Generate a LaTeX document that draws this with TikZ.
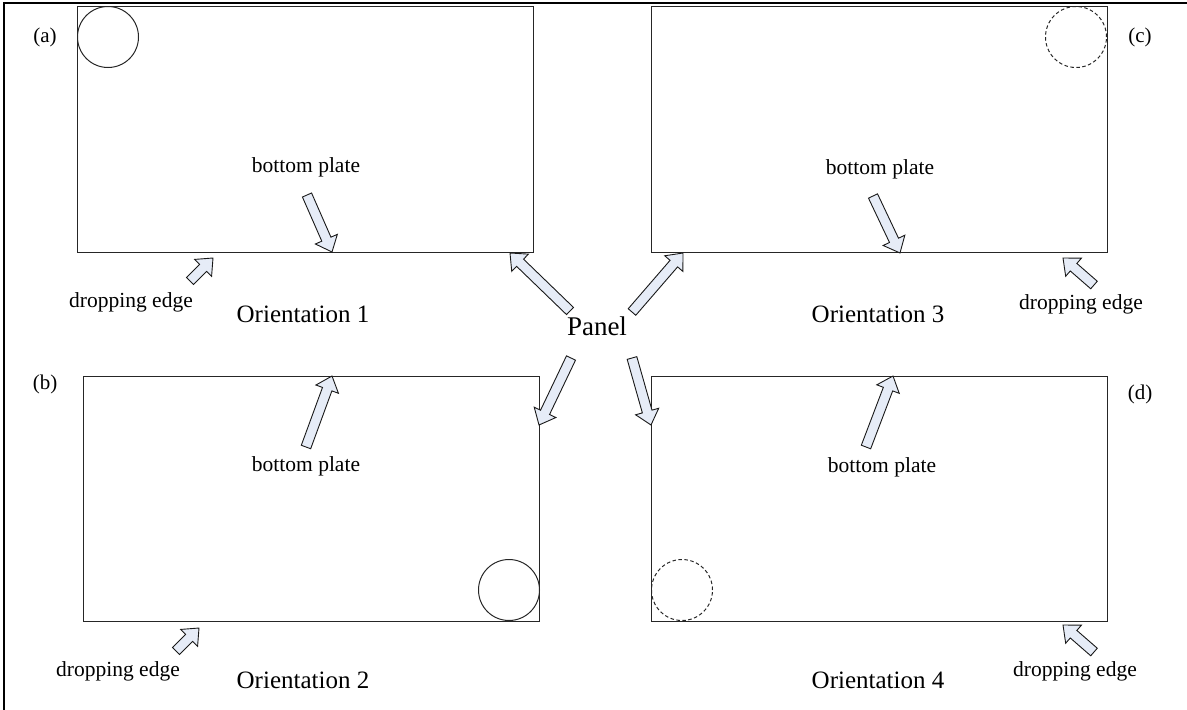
\documentclass[tikz,border=0pt]{standalone}
\usepackage{fontspec}
\setmainfont{Liberation Serif}
\usetikzlibrary{calc}
\definecolor{arrowfill}{HTML}{E6ECF7}
\tikzset{
  plate/.style={draw=black!85, line width=1.1pt},
  ballsolid/.style={draw=black!85, line width=1pt},
  balldash/.style={draw=black!85, line width=1pt, dash pattern=on 3.5pt off 2.5pt},
  barrow/.style={draw=black!90, fill=arrowfill, line width=0.9pt, line join=miter},
  lbl/.style={font=\fontsize{21}{24}\selectfont, inner sep=0pt},
  small/.style={font=\fontsize{21.5}{24}\selectfont, inner sep=0pt, anchor=base},
  orient/.style={font=\fontsize{25}{28}\selectfont, inner sep=0pt, anchor=base},
}
% block arrow from #1 (tail) to #2 (tip)
\newcommand\blockarrow[2]{%
  \path[barrow] let \p1=($(#2)-(#1)$), \n1={atan2(\y1,\x1)}, \n2={veclen(\x1,\y1)} in
    [shift={(#1)}, rotate=\n1]
    (0,-5) -- (\n2-14,-5) -- (\n2-14,-12) -- (\n2,0) -- (\n2-14,12) -- (\n2-14,5) -- (0,5) -- cycle;}
\begin{document}
\begin{tikzpicture}[x=1pt,y=-1pt]
\useasboundingbox (0,0) rectangle (1187,710);
% outer frame (top and left)
\draw[line width=2.2pt] (4,710) -- (4,3) -- (1187,3);
% plates
\node[plate, minimum width=456pt, minimum height=246pt, anchor=north west, inner sep=0pt] (A) at (77,6) {};
\node[plate, minimum width=456pt, minimum height=246pt, anchor=north west, inner sep=0pt] (C) at (651,6) {};
\node[plate, minimum width=456pt, minimum height=245pt, anchor=north west, inner sep=0pt] (B) at (83,376) {};
\node[plate, minimum width=456pt, minimum height=245pt, anchor=north west, inner sep=0pt] (D) at (651,376) {};
% balls
\node[ballsolid, circle, minimum size=61pt, inner sep=0pt] (ca) at (108,37) {};
\node[balldash, circle, minimum size=61pt, inner sep=0pt] (cc) at (1076,37) {};
\node[ballsolid, circle, minimum size=61pt, inner sep=0pt] (cb) at (509,590) {};
\node[balldash, circle, minimum size=61pt, inner sep=0pt] (cd) at (682,590) {};
% labels
\node[lbl] (la) at (45,37) {(a)};
\node[lbl] (lc) at (1140,37) {(c)};
\node[lbl] (lb) at (45,384) {(b)};
\node[lbl] (ld) at (1140,394) {(d)};
% bottom plate labels
\node[small] (bpa) at (306,172) {bottom plate};
\node[small] (bpc) at (880,174) {bottom plate};
\node[small] (bpb) at (306,471) {bottom plate};
\node[small] (bpd) at (882,472) {bottom plate};
% dropping edge labels
\node[small] (dea) at (131,307) {dropping edge};
\node[small] (dec) at (1081,309) {dropping edge};
\node[small] (deb) at (118,676) {dropping edge};
\node[small] (ded) at (1075,676) {dropping edge};
% orientation labels
\node[orient] (o1) at (303,322) {Orientation 1};
\node[orient] (o3) at (878,322) {Orientation 3};
\node[orient] (o2) at (303,688) {Orientation 2};
\node[orient] (o4) at (878,688) {Orientation 4};
% panel
\node[font=\fontsize{27}{30}\selectfont, inner sep=0pt, anchor=base] (panel) at (597,335) {Panel};
% arrow endpoints
\coordinate (ta1) at (307,195); \coordinate (pa1) at (332,252);
\coordinate (ta3) at (873,196); \coordinate (pa3) at (900,253);
\coordinate (tb1) at (306,447); \coordinate (pb1) at (332,376);
\coordinate (tb3) at (866,447); \coordinate (pb3) at (893,376);
\coordinate (tda) at (190,281); \coordinate (pda) at (213,258);
\coordinate (tdc) at (1094,285); \coordinate (pdc) at (1063,258);
\coordinate (tdb) at (176,651); \coordinate (pdb) at (199,628);
\coordinate (tdd) at (1094,652); \coordinate (pdd) at (1063,625);
\coordinate (tp1) at (570,311); \coordinate (pp1) at (510,253);
\coordinate (tp3) at (632,312); \coordinate (pp3) at (683,253);
\coordinate (tp2) at (571,358); \coordinate (pp2) at (539,425);
\coordinate (tp4) at (632,358); \coordinate (pp4) at (651,425);
% arrows
\blockarrow{ta1}{pa1}
\blockarrow{ta3}{pa3}
\blockarrow{tb1}{pb1}
\blockarrow{tb3}{pb3}
\blockarrow{tda}{pda}
\blockarrow{tdc}{pdc}
\blockarrow{tdb}{pdb}
\blockarrow{tdd}{pdd}
\blockarrow{tp1}{pp1}
\blockarrow{tp3}{pp3}
\blockarrow{tp2}{pp2}
\blockarrow{tp4}{pp4}
\end{tikzpicture}
\end{document}
